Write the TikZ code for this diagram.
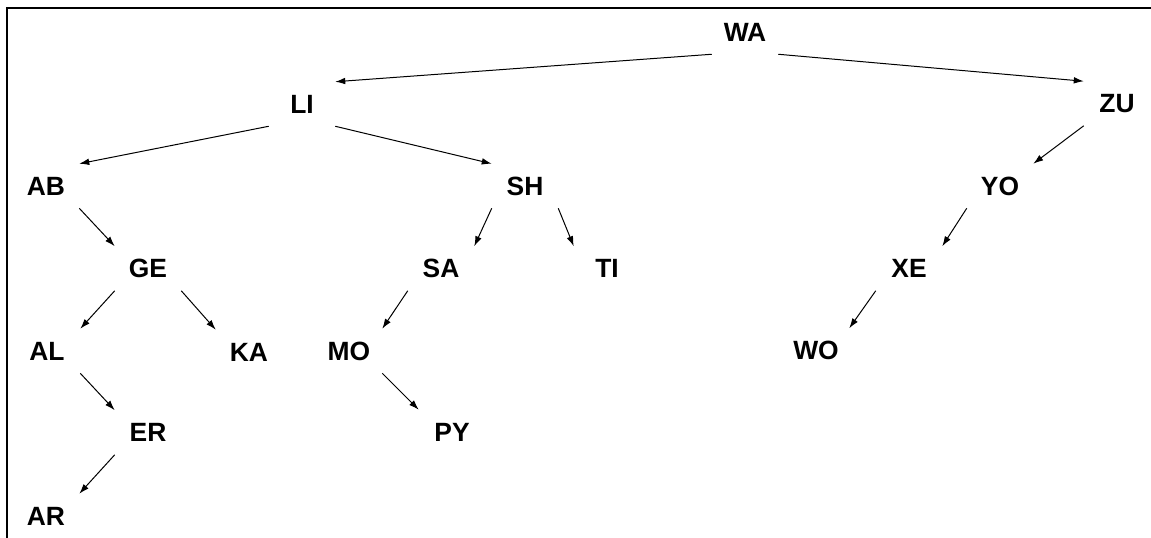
\documentclass[tikz,border=0pt]{standalone}
\usepackage{fontspec}
\setmainfont{Liberation Sans}
\usetikzlibrary{arrows.meta}
\begin{document}
\begin{tikzpicture}[x=0.75pt,y=-0.75pt,
  tn/.style={font=\fontsize{19.8}{22}\selectfont\bfseries, inner sep=0pt, text height=14.2pt, text depth=0pt, minimum width=49.5pt, minimum height=33pt, anchor=center},
  edge/.style={line width=0.75pt, -{Latex[length=7.5pt,width=5pt]}},
  frame/.style={line width=1.6pt}]
\useasboundingbox (0,0) rectangle (1151,538);
\draw[frame] (7,538) -- (7,7.7) -- (1151,7.7);
\node[tn] (WA) at (745,32) {WA};
\node[tn] (LI) at (302,104) {LI};
\node[tn] (ZU) at (1117,103.5) {ZU};
\node[tn] (AB) at (46,186) {AB};
\node[tn] (SH) at (525,186) {SH};
\node[tn] (YO) at (1000,186) {YO};
\node[tn] (GE) at (148,268.5) {GE};
\node[tn] (SA) at (441,268.5) {SA};
\node[tn] (TI) at (607,268.5) {TI};
\node[tn] (XE) at (909,268.5) {XE};
\node[tn] (AL) at (47,351) {AL};
\node[tn] (KA) at (249,352) {KA};
\node[tn] (MO) at (349,351) {MO};
\node[tn] (WO) at (816,350.5) {WO};
\node[tn] (ER) at (148,432.5) {ER};
\node[tn] (PY) at (452,432) {PY};
\node[tn] (AR) at (46,516) {AR};
\draw[edge] (WA.south west) -- (LI.north east);
\draw[edge] (WA.south east) -- (ZU.north west);
\draw[edge] (LI.south west) -- (AB.north east);
\draw[edge] (LI.south east) -- (SH.north west);
\draw[edge] (ZU.south west) -- (YO.north east);
\draw[edge] (AB.south east) -- (GE.north west);
\draw[edge] (SH.south west) -- (SA.north east);
\draw[edge] (SH.south east) -- (TI.north west);
\draw[edge] (YO.south west) -- (XE.north east);
\draw[edge] (GE.south west) -- (AL.north east);
\draw[edge] (GE.south east) -- (KA.north west);
\draw[edge] (SA.south west) -- (MO.north east);
\draw[edge] (XE.south west) -- (WO.north east);
\draw[edge] (AL.south east) -- (ER.north west);
\draw[edge] (MO.south east) -- (PY.north west);
\draw[edge] (ER.south west) -- (AR.north east);
\end{tikzpicture}
\end{document}
